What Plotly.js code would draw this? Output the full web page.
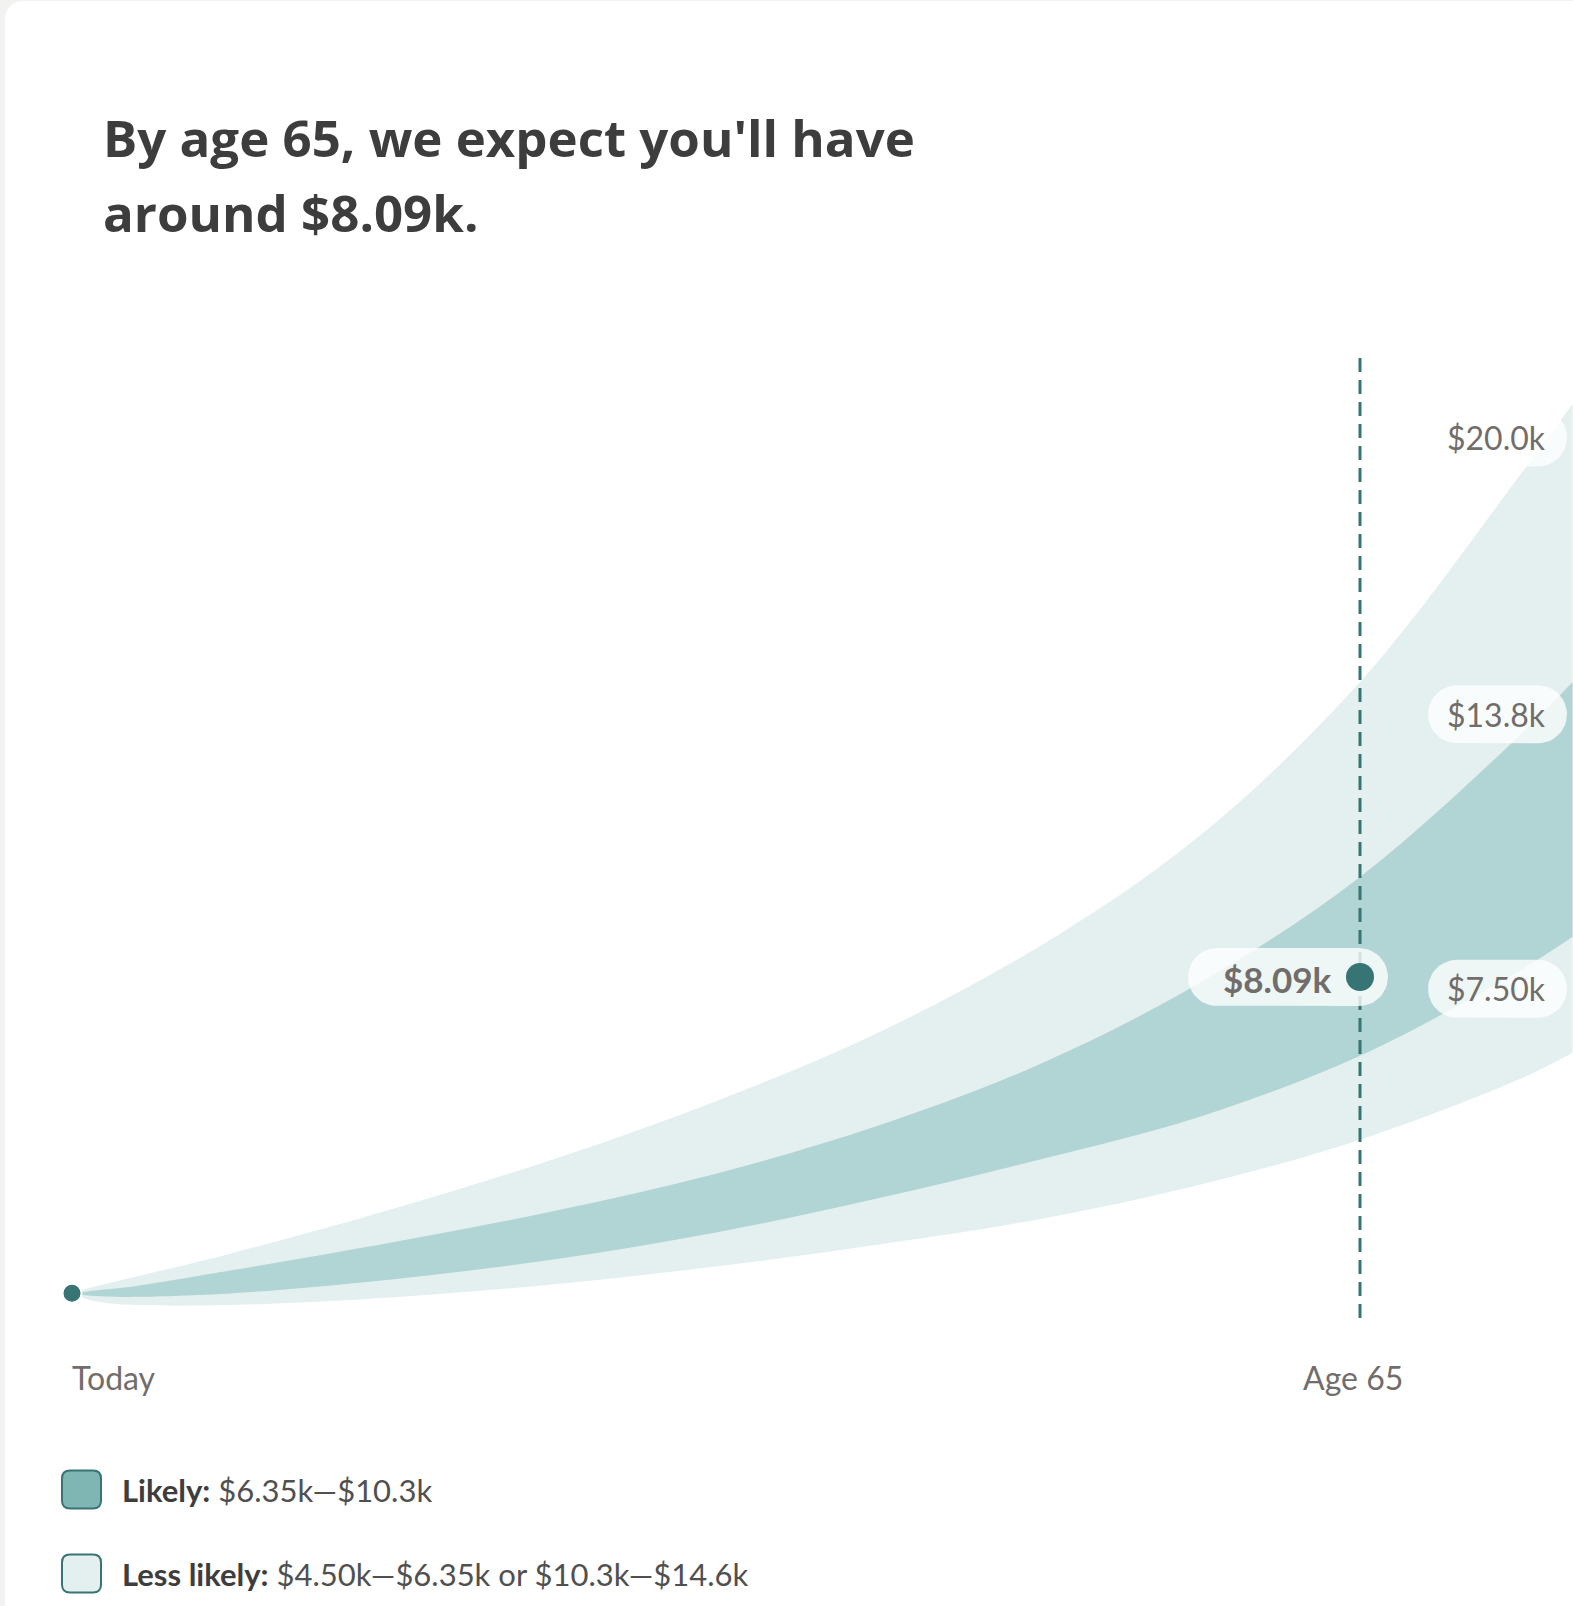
<!DOCTYPE html>
<html>
<head>
<meta charset="utf-8">
<script src="https://cdn.plot.ly/plotly-3.0.1.min.js"></script>
<style>
  html, body { margin: 0; padding: 0; background: #f2f2f1; width: 1573px; height: 1606px; overflow: hidden; }
  #card { position: absolute; left: 5px; top: 1px; width: 1620px; height: 1700px; background: #ffffff; border-radius: 18px; }
  #chart { position: absolute; left: 0; top: 0; width: 1573px; height: 1606px; }
</style>
</head>
<body>
<div id="card"></div>
<div id="chart"></div>
<script>
// ---------------- DATA ----------------
// years from today (Age 65 = 40 years from today)
const years      = [0, 0.5, 1, 2, 5, 10, 15, 20, 25, 30, 35, 40, 45, 46.6];
// less likely band, upper edge ($k)
const upperOuter = [1.11, 1.22, 1.31, 1.48, 2.0, 2.98, 4.08, 5.35, 6.85, 8.75, 11.2, 14.6, 19.2, 20.74];
// likely band, upper edge ($k)
const upperInner = [1.11, 1.15, 1.19, 1.27, 1.62, 2.24, 2.93, 3.75, 4.8, 6.15, 7.95, 10.3, 13.45, 14.6];
// likely band, lower edge ($k)
const lowerInner = [1.11, 1.06, 1.04, 1.03, 1.11, 1.42, 1.86, 2.45, 3.2, 4.05, 5.0, 6.35, 8.25, 8.98];
// less likely band, lower edge ($k)
const lowerOuter = [1.11, 0.97, 0.9, 0.85, 0.85, 1.02, 1.31, 1.7, 2.18, 2.74, 3.5, 4.50, 5.85, 6.42];

const startYear = 0, startValue = 1.11;
const targetYear = 40, targetValue = 8.09;
const targetLabel = '$8.09k';
const tickYears = [0, 40];
const tickLabels = ['Today', 'Age 65'];
const endLabels = ['$20.0k', '$13.8k', '$7.50k'];
const endValues = [20.0, 13.8, 7.50];
const legendNames = ['Likely:', 'Less likely:'];
const legendRanges = ['$6.35k\u2014$10.3k', '$4.50k\u2014$6.35k or $10.3k\u2014$14.6k'];
const titleLines = ["By age 65, we expect you'll have", 'around $8.09k.'];

// ---------------- LAYOUT GEOMETRY ----------------
const W = 1573, H = 1606;
const pxPerYear = 32.2, x0px = 72;       // "Today" at 72px
const pxPerK = 45.3, zeroPy = 1343.5;     // $0 at 1343.5px
const xmin = -x0px / pxPerYear, xmax = (W - x0px) / pxPerYear;
const ymax = zeroPy / pxPerK, ymin = (zeroPy - H) / pxPerK;

const dataToPx = (x, y) => [x0px + x * pxPerYear, zeroPy - y * pxPerK];
const pxToData = (px, py) => [(px - x0px) / pxPerYear, (zeroPy - py) / pxPerK];
const pxToPaper = (px, py) => [px / W, 1 - py / H];

const DARK = '#367573', LIGHT_BAND = '#e4f0ef', DARK_BAND = '#b1d4d4';
const LABEL = '#716d6a', TITLE = '#3d3d3d';

function pill(leftPx, rightPx, cyPx, halfH) {
  const r = halfH, xs = [], ys = [];
  for (let i = 0; i <= 24; i++) {           // right cap
    const a = -Math.PI / 2 + Math.PI * i / 24;
    const d = pxToData(rightPx - r + r * Math.cos(a), cyPx + r * Math.sin(a));
    xs.push(d[0]); ys.push(d[1]);
  }
  for (let i = 0; i <= 24; i++) {           // left cap
    const a = Math.PI / 2 + Math.PI * i / 24;
    const d = pxToData(leftPx + r + r * Math.cos(a), cyPx + r * Math.sin(a));
    xs.push(d[0]); ys.push(d[1]);
  }
  xs.push(xs[0]); ys.push(ys[0]);
  return { x: xs, y: ys, type: 'scatter', mode: 'lines', fill: 'toself',
           fillcolor: 'rgba(255,255,255,0.78)', line: { width: 0 }, hoverinfo: 'skip' };
}

const traces = [];
traces.push({ x: years, y: lowerOuter, type: 'scatter', mode: 'lines', line: { width: 0, shape: 'spline' }, hoverinfo: 'skip' });
traces.push({ x: years, y: upperOuter, type: 'scatter', mode: 'lines', fill: 'tonexty', fillcolor: LIGHT_BAND, line: { width: 0, shape: 'spline' }, hoverinfo: 'skip' });
traces.push({ x: years, y: lowerInner, type: 'scatter', mode: 'lines', line: { width: 0, shape: 'spline' }, hoverinfo: 'skip' });
traces.push({ x: years, y: upperInner, type: 'scatter', mode: 'lines', fill: 'tonexty', fillcolor: DARK_BAND, line: { width: 0, shape: 'spline' }, hoverinfo: 'skip' });

// dashed age-65 line
const lineTop = pxToData(0, 358)[1], lineBot = pxToData(0, 1318)[1];
traces.push({ x: [targetYear, targetYear], y: [lineBot, lineTop], type: 'scatter', mode: 'lines',
              line: { color: DARK, width: 3, dash: '14px,8px' }, hoverinfo: 'skip' });

// pills
const tp = dataToPx(targetYear, targetValue);
traces.push(pill(tp[0] - 172, tp[0] + 28, tp[1], 29));
const endShift = [0, -4, -15];
endValues.forEach((v, i) => {
  const py = dataToPx(0, v)[1] + endShift[i];
  traces.push(pill(1428, 1567, py, 29));
});

// dots
traces.push({ x: [startYear], y: [startValue], type: 'scatter', mode: 'markers',
              marker: { color: DARK, size: 19, line: { color: '#ffffff', width: 2 } }, hoverinfo: 'skip' });
traces.push({ x: [targetYear], y: [targetValue], type: 'scatter', mode: 'markers',
              marker: { color: DARK, size: 28, line: { width: 0 } }, hoverinfo: 'skip' });

const annotations = [];
// title
const titleBase = [155, 230];
titleLines.forEach((t, i) => {
  const p = pxToPaper(101, titleBase[i] - 18);
  annotations.push({ xref: 'paper', yref: 'paper', x: p[0], y: p[1], xanchor: 'left', yanchor: 'middle',
    text: '<b>' + t + '</b>', showarrow: false,
    font: { family: 'Open Sans, Lato, sans-serif', size: 51, color: TITLE } });
});
// target label
annotations.push({ xref: 'x', yref: 'y', x: targetYear, y: targetValue, xanchor: 'right', yanchor: 'middle',
  xshift: -26, yshift: -2, text: '<b>' + targetLabel + '</b>', showarrow: false,
  font: { family: 'Lato, sans-serif', size: 35, color: LABEL } });
// end labels
endValues.forEach((v, i) => {
  annotations.push({ xref: 'paper', yref: 'y', x: 1548 / W, y: v, yshift: -endShift[i], xanchor: 'right', yanchor: 'middle',
    text: endLabels[i], showarrow: false, font: { family: 'Lato, sans-serif', size: 32, color: LABEL } });
});
// x tick labels
annotations.push({ xref: 'x', yref: 'paper', x: tickYears[0], y: pxToPaper(0, 1377)[1], xanchor: 'left', yanchor: 'middle',
  xshift: -2, text: tickLabels[0], showarrow: false, font: { family: 'Lato, sans-serif', size: 32, color: LABEL } });
annotations.push({ xref: 'x', yref: 'paper', x: tickYears[1], y: pxToPaper(0, 1377)[1], xanchor: 'center', yanchor: 'middle',
  xshift: -7, text: tickLabels[1], showarrow: false, font: { family: 'Lato, sans-serif', size: 32, color: LABEL } });

// legend
const legendCy = [1489.5, 1573.5];
const legendFill = ['#7fb5b3', LIGHT_BAND];
const shapes = [];
function roundRectPath(l, t, r, b, rad) {
  const P = (x, y) => { const p = pxToPaper(x, y); return p[0].toFixed(6) + ',' + p[1].toFixed(6); };
  return 'M' + P(l + rad, t) + ' L' + P(r - rad, t) + ' Q' + P(r, t) + ' ' + P(r, t + rad) +
         ' L' + P(r, b - rad) + ' Q' + P(r, b) + ' ' + P(r - rad, b) +
         ' L' + P(l + rad, b) + ' Q' + P(l, b) + ' ' + P(l, b - rad) +
         ' L' + P(l, t + rad) + ' Q' + P(l, t) + ' ' + P(l + rad, t) + ' Z';
}
legendNames.forEach((n, i) => {
  const cy = legendCy[i];
  shapes.push({ type: 'path', xref: 'paper', yref: 'paper', path: roundRectPath(62, cy - 19, 101, cy + 19, 8),
    fillcolor: legendFill[i], line: { color: DARK, width: 2 }, layer: 'above' });
  const p = pxToPaper(120, cy);
  annotations.push({ xref: 'paper', yref: 'paper', x: p[0], y: p[1], xanchor: 'left', yanchor: 'middle',
    text: '<b>' + n + '</b> <span style="color:#505050">' + legendRanges[i] + '</span>', showarrow: false,
    font: { family: 'Lato, sans-serif', size: 31, color: TITLE } });
});

const layout = {
  width: W, height: H,
  margin: { l: 0, r: 0, t: 0, b: 0, pad: 0 },
  paper_bgcolor: 'rgba(0,0,0,0)', plot_bgcolor: 'rgba(0,0,0,0)',
  showlegend: false,
  xaxis: { range: [xmin, xmax], visible: false, fixedrange: true },
  yaxis: { range: [ymin, ymax], visible: false, fixedrange: true },
  annotations: annotations,
  shapes: shapes
};
Plotly.newPlot('chart', traces, layout, { displayModeBar: false, staticPlot: true });
</script>
</body>
</html>
